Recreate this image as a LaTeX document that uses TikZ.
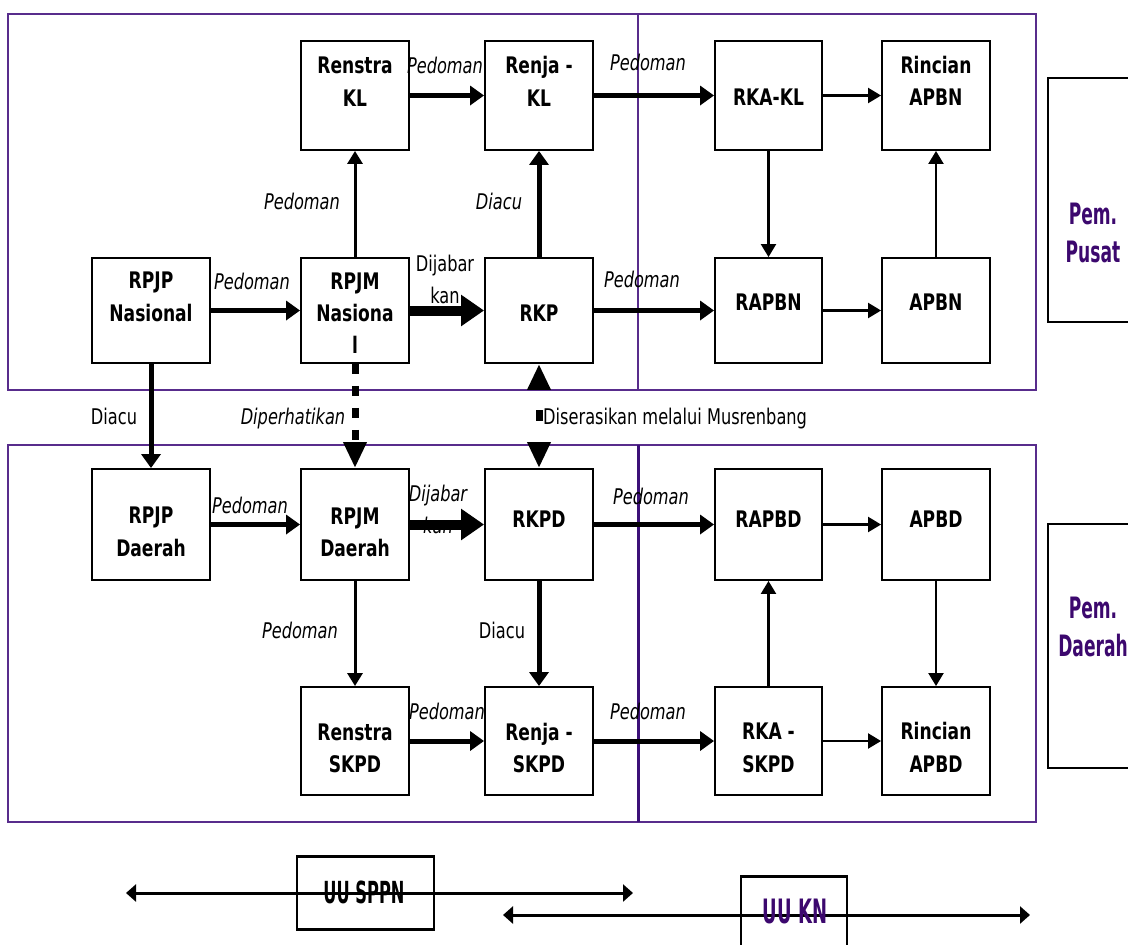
\documentclass[tikz,border=0pt]{standalone}
\usepackage{fontspec}
\usepackage{graphicx}
\usetikzlibrary{arrows.meta}
\newfontfamily\nbf{DejaVu Sans Condensed Bold}
\newfontfamily\nit{DejaVu Sans Condensed Oblique}
\newfontfamily\nrm{DejaVu Sans Condensed}
\definecolor{framec}{RGB}{88,44,140}
\definecolor{framedk}{RGB}{60,16,120}
\definecolor{ptext}{RGB}{60,8,110}
\newcommand\boxtxt[1]{\scalebox{1}[1.2]{\fontsize{19}{27}\selectfont\nbf\begin{tabular}{@{}c@{}}#1\end{tabular}}}
\newcommand\lblit[1]{\scalebox{1}[1.2]{\fontsize{18}{27}\selectfont\nit\begin{tabular}{@{}c@{}}#1\end{tabular}}}
\newcommand\lblrm[1]{\scalebox{1}[1.2]{\fontsize{18}{27}\selectfont\nrm\begin{tabular}{@{}c@{}}#1\end{tabular}}}
\newcommand\pemtxt[1]{\scalebox{1}[1.55]{\fontsize{19}{24}\selectfont\nbf\color{ptext}\begin{tabular}{@{}c@{}}#1\end{tabular}}}
\tikzset{
  box/.style={draw, line width=1.9pt, fill=white, inner sep=0pt, minimum width=108pt},
  txt/.style={inner sep=0pt},
  arrthin/.style={line width=2.2pt, -{Triangle[length=13pt,width=15pt]}},
  arrmed/.style={line width=3pt, -{Triangle[length=13pt,width=15pt]}},
  arrthick/.style={line width=5pt, -{Triangle[length=14pt,width=19pt]}},
  arrheavy/.style={line width=10pt, -{Triangle[length=23pt,width=30pt]}},
  arrdash/.style={line width=7pt, -{Triangle[length=26pt,width=22pt]}},
  legline/.style={line width=3pt, {Triangle[length=10pt,width=17pt]}-{Triangle[length=10pt,width=17pt]}}
}
\begin{document}
\begin{tikzpicture}[x=1pt,y=-1pt]
\useasboundingbox (0,0) rectangle (1128,945);
% frames
\draw[framec, line width=2.2pt] (8,14) rectangle (1036,390);
\draw[framec, line width=1.5pt] (638,14) -- (638,390);
\draw[framec, line width=2.2pt] (8,445) rectangle (1036,822);
\draw[framedk, line width=3pt] (638,445) -- (638,822);
% side boxes
\draw[line width=1.8pt] (1048,78) rectangle (1150,322);
\draw[line width=1.8pt] (1048,524) rectangle (1150,768);
\node[txt] (pusat) at (1093,236) {\pemtxt{Pem.\\Pusat}};
\node[txt] (pemd) at (1093,630) {\pemtxt{Pem.\\Daerah}};
% boxes row 1
\node[box, minimum height=109pt] (renstrakl) at (355,95.5) {};
\node[box, minimum height=109pt] (renjakl) at (539,95.5) {};
\node[box, minimum height=109pt, minimum width=107pt] (rkakl) at (768.5,95.5) {};
\node[box, minimum height=109pt] (rincianapbn) at (936,95.5) {};
% row 2
\node[box, minimum height=105pt, minimum width=118pt] (rpjpnas) at (151,310.5) {};
\node[box, minimum height=105pt] (rpjmnas) at (355,310.5) {};
\node[box, minimum height=105pt] (rkp) at (539,310.5) {};
\node[box, minimum height=105pt, minimum width=107pt] (rapbn) at (768.5,310.5) {};
\node[box, minimum height=105pt] (apbn) at (936,310.5) {};
% row 3
\node[box, minimum height=111pt, minimum width=118pt] (rpjpd) at (151,524.5) {};
\node[box, minimum height=111pt] (rpjmd) at (355,524.5) {};
\node[box, minimum height=111pt] (rkpd) at (539,524.5) {};
\node[box, minimum height=111pt, minimum width=107pt] (rapbd) at (768.5,524.5) {};
\node[box, minimum height=111pt] (apbd) at (936,524.5) {};
% row 4
\node[box, minimum height=108pt] (renstraskpd) at (355,741) {};
\node[box, minimum height=108pt] (renjaskpd) at (539,741) {};
\node[box, minimum height=108pt, minimum width=107pt] (rkaskpd) at (768.5,741) {};
\node[box, minimum height=108pt] (rincianapbd) at (936,741) {};
% box texts
\node[txt, yshift=12pt] (t-renstrakl) at (renstrakl) {\boxtxt{Renstra\\KL}};
\node[txt, yshift=12pt] (t-renjakl) at (renjakl) {\boxtxt{Renja -\\KL}};
\node[txt, yshift=-3.5pt] (t-rkakl) at (rkakl) {\boxtxt{RKA-KL}};
\node[txt, yshift=12.5pt] (t-rincianapbn) at (rincianapbn) {\boxtxt{Rincian\\APBN}};
\node[txt, yshift=12pt] (t-rpjpnas) at (rpjpnas) {\boxtxt{RPJP\\Nasional}};
\node[txt, yshift=-4.5pt] (t-rpjmnas) at (rpjmnas) {\boxtxt{RPJM\\Nasiona\\l}};
\node[txt, yshift=-5pt] (t-rkp) at (rkp) {\boxtxt{RKP}};
\node[txt, yshift=6pt] (t-rapbn) at (rapbn) {\boxtxt{RAPBN}};
\node[txt, yshift=6pt] (t-apbn) at (apbn) {\boxtxt{APBN}};
\node[txt, yshift=-9pt] (t-rpjpd) at (rpjpd) {\boxtxt{RPJP\\Daerah}};
\node[txt, yshift=-9.5pt] (t-rpjmd) at (rpjmd) {\boxtxt{RPJM\\Daerah}};
\node[txt, yshift=3.5pt] (t-rkpd) at (rkpd) {\boxtxt{RKPD}};
\node[txt, yshift=3.5pt] (t-rapbd) at (rapbd) {\boxtxt{RAPBD}};
\node[txt, yshift=3.5pt] (t-apbd) at (apbd) {\boxtxt{APBD}};
\node[txt, yshift=-9pt] (t-renstraskpd) at (renstraskpd) {\boxtxt{Renstra\\SKPD}};
\node[txt, yshift=-9pt] (t-renjaskpd) at (renjaskpd) {\boxtxt{Renja -\\SKPD}};
\node[txt, yshift=-8.5pt] (t-rkaskpd) at (rkaskpd) {\boxtxt{RKA -\\SKPD}};
\node[txt, yshift=-8.5pt] (t-rincianapbd) at (rincianapbd) {\boxtxt{Rincian\\APBD}};
% labels
\node[txt] (l1) at (445,67) {\lblit{Pedoman}};
\node[txt] (l2) at (648,64) {\lblit{Pedoman}};
\node[txt] (l3) at (302,203) {\lblit{Pedoman}};
\node[txt] (l4) at (499,203) {\lblit{Diacu}};
\node[txt] (l5) at (252,283) {\lblit{Pedoman}};
\node[txt] (l6) at (445,281) {\lblrm{Dijabar\\kan}};
\node[txt] (l7) at (642,281) {\lblit{Pedoman}};
\node[txt] (l8) at (114,418) {\lblrm{Diacu}};
\node[txt] (l9) at (293,418) {\lblit{Diperhatikan}};
\node[txt, anchor=west] (l10) at (543,418) {\lblrm{Diserasikan melalui Musrenbang}};
\node[txt] (l11) at (250,507) {\lblit{Pedoman}};
\node[txt] (l12) at (438,511) {\lblit{Dijabar\\kan}};
\node[txt] (l13) at (300,632) {\lblit{Pedoman}};
\node[txt] (l14) at (502,632) {\lblrm{Diacu}};
\node[txt] (l15) at (447,713) {\lblit{Pedoman}};
\node[txt] (l16) at (651,498) {\lblit{Pedoman}};
\node[txt] (l17) at (648,713) {\lblit{Pedoman}};
% connectors top
\draw[arrthick] (rpjpnas) -- (rpjmnas);
\draw[arrheavy] (rpjmnas) -- (rkp);
\draw[arrmed] (rpjmnas) -- (renstrakl);
\draw[arrthick] (renstrakl) -- (renjakl);
\draw[arrthick] (rkp) -- (renjakl);
\draw[arrthick] (renjakl) -- (rkakl);
\draw[arrthick] (rkp) -- (rapbn);
\draw[arrthin] (rkakl) -- (rincianapbn);
\draw[arrthin] (rkakl) -- (rapbn);
\draw[arrthin] (rapbn) -- (apbn);
\draw[arrthin] (apbn) -- (rincianapbn);
% between
\draw[arrthick] (rpjpnas) -- (rpjpd);
\draw[arrdash, dash pattern=on 10pt off 12pt] (rpjmnas) -- (rpjmd);
\draw[arrdash, {Triangle[length=26pt,width=22pt]}-{Triangle[length=26pt,width=22pt]}, dash pattern=on 0pt off 22pt on 11pt off 60pt] (rkp) -- (rkpd);
% bottom
\draw[arrthick] (rpjpd) -- (rpjmd);
\draw[arrheavy] (rpjmd) -- (rkpd);
\draw[arrmed] (rpjmd) -- (renstraskpd);
\draw[arrthick] (rkpd) -- (renjaskpd);
\draw[arrthick] (renstraskpd) -- (renjaskpd);
\draw[arrthick] (rkpd) -- (rapbd);
\draw[arrthick] (renjaskpd) -- (rkaskpd);
\draw[arrthin] (rapbd) -- (apbd);
\draw[arrthin] (rkaskpd) -- (rapbd);
\draw[arrthin] (apbd) -- (rincianapbd);
\draw[arrthin] (rkaskpd) -- (rincianapbd);
% legend
\node[draw, line width=1.2pt, inner sep=0pt, minimum width=137pt, minimum height=72pt] (sppnbox) at (365.5,893) {};
\draw[line width=3pt] (sppnbox.north west) -- (sppnbox.north east);
\draw[line width=3pt] (sppnbox.south west) -- (sppnbox.south east);
\node[draw, line width=1.2pt, inner sep=0pt, minimum width=106pt, minimum height=86pt] (knbox) at (794,920) {};
\draw[line width=3pt] (knbox.north west) -- (knbox.north east);
\coordinate (sppnL) at (126,893);
\coordinate (sppnR) at (633,893);
\coordinate (knL) at (503,915);
\coordinate (knR) at (1030,915);
\draw[legline] (sppnL) -- (sppnR);
\draw[legline] (knL) -- (knR);
\node[txt] (sppntxt) at (364,892) {\scalebox{0.95}[1.6]{\fontsize{19}{24}\selectfont\nbf UU SPPN}};
\node[txt] (kntxt) at (795,911) {\scalebox{0.95}[1.6]{\fontsize{21}{26}\selectfont\nbf\color{ptext}UU KN}};
\end{tikzpicture}
\end{document}
